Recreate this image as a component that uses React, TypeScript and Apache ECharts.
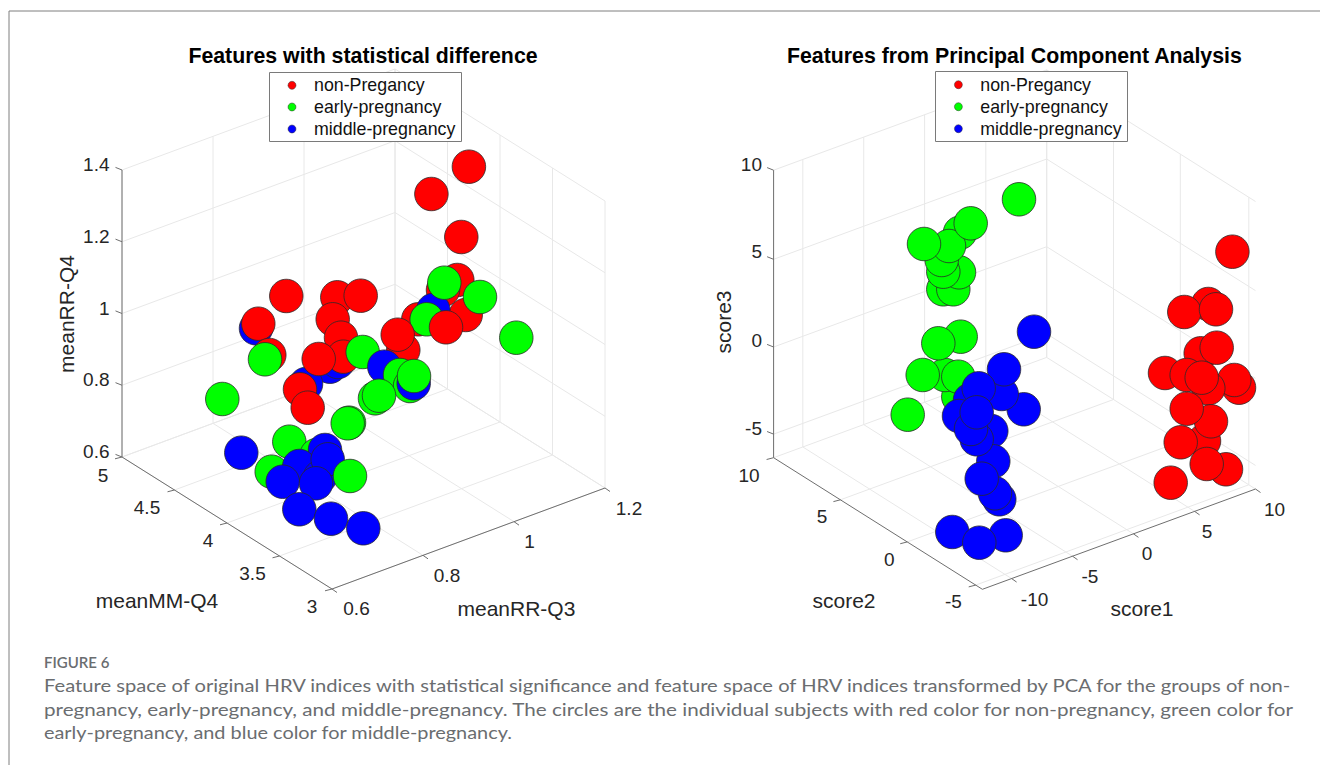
import React, { useEffect, useRef } from "react";
import * as echarts from "echarts";

const leftNonPregnancy = [
  [403.3, 350, 1], [465.7, 315, 2], [457.3, 280, 3], [443, 290, 4], [418.3, 319.3, 5], [446, 327.3, 10], [397.7, 334.7, 11],
  [468.9, 166.7, 12], [431.4, 194, 13], [461.3, 237, 14], [258.3, 323.7, 16], [286.3, 296, 17], [269.3, 355, 18],
  [337.3, 297.3, 20], [360.7, 295.7, 21], [332.7, 319.3, 22], [341, 337.7, 23], [343.3, 356.7, 26], [318.7, 359, 28],
  [300, 389.3, 29], [307.7, 407.7, 30],
];
const leftEarlyPregnancy = [
  [426.7, 319.3, 7], [444.3, 282.7, 8], [480, 297, 9], [265, 359.3, 19], [362.7, 352, 31], [400, 375, 33], [410, 386, 34],
  [414, 376, 36], [375, 398.3, 37], [379, 395.7, 38], [349, 422.7, 39], [347.7, 423.3, 40], [222.3, 399, 41],
  [516.3, 337.7, 41.5], [289.3, 441.7, 42], [316.7, 455, 43], [271.7, 471.7, 44], [350, 476, 50],
];
const leftMiddlePregnancy = [
  [433.3, 310, 6], [256, 328.3, 15], [330, 366.7, 24], [338, 362, 25], [306, 384, 27], [384.3, 366.7, 32], [413.7, 383.3, 35],
  [241.3, 452.7, 45], [325, 450, 46], [299.3, 466, 47], [320, 477, 48], [327.7, 459.3, 49], [282.7, 481.7, 51],
  [316, 483.3, 52], [299.3, 509.3, 53], [331, 518.7, 54], [363.3, 528.3, 55],
];
const rightNonPregnancy = [
  [1232.4, 251.7, 1], [1208.3, 304, 2], [1184.3, 312, 3], [1216, 309.3, 4], [1200.7, 353.3, 5], [1216.7, 347.7, 6],
  [1165, 373, 7], [1239, 387.7, 8], [1234.3, 380, 9], [1208.3, 388.3, 10], [1186.7, 375, 11], [1201.7, 377.7, 12],
  [1204, 441, 13], [1211, 421.3, 14], [1186.7, 408.7, 15], [1180.7, 442.3, 16], [1226, 469.3, 17], [1206.7, 464, 18],
  [1170.7, 482.7, 19],
];
const rightEarlyPregnancy = [
  [960, 232.7, 20], [943.3, 289.3, 21], [953.3, 289.3, 22], [959, 272.3, 23], [943.3, 271.7, 24], [941.7, 260, 25],
  [949, 246, 26], [924, 244, 27], [970.7, 223.3, 28], [958.3, 396.7, 29], [945, 375, 30], [922.7, 375, 31],
  [958.3, 376.7, 32], [960.7, 336.7, 33], [938.3, 343.3, 34], [907.7, 414.7, 35], [1019, 199.3, 36],
];
const rightMiddlePregnancy = [
  [1034, 331.7, 37], [1023.7, 409.3, 38], [1001.7, 394, 39], [1004, 369.3, 40], [970, 400, 41], [959, 416, 42],
  [978.7, 388.3, 43], [991.3, 431, 44], [993.3, 461.3, 45], [999.3, 499.3, 46], [995, 493.3, 47], [981.7, 478.7, 48],
  [976.7, 439.3, 49], [971, 429, 50], [976.7, 412.3, 51], [1005.7, 535.3, 52], [952.3, 532, 53], [979.3, 542.7, 54],
];

const legendLabels = ["non-Pregancy", "early-pregnancy", "middle-pregnancy"];
const groupColors = ["#ff0000", "#00ff00", "#0000ff"];

const leftTitle = "Features with statistical difference";
const rightTitle = "Features from Principal Component Analysis";
const leftZTicks = ["0.6", "0.8", "1", "1.2", "1.4"];
const leftYTicks = ["5", "4.5", "4", "3.5", "3"];
const leftXTicks = ["0.6", "0.8", "1", "1.2"];
const rightZTicks = ["-5", "0", "5", "10"];
const rightYTicks = ["10", "5", "0", "-5"];
const rightXTicks = ["-10", "-5", "0", "5", "10"];

const captionHead = "FIGURE 6";
const captionLines = [
  "Feature space of original HRV indices with statistical significance and feature space of HRV indices transformed by PCA for the groups of non-",
  "pregnancy, early-pregnancy, and middle-pregnancy. The circles are the individual subjects with red color for non-pregnancy, green color for",
  "early-pregnancy, and blue color for middle-pregnancy.",
];

type P = [number, number];
const SANS = '"Liberation Sans", Arial, sans-serif';
const CAP = 'Lato, "Noto Sans", sans-serif';

const lerp = (a: P, b: P, t: number): P => [a[0] + (b[0] - a[0]) * t, a[1] + (b[1] - a[1]) * t];
const add = (a: P, d: P): P => [a[0] + d[0], a[1] + d[1]];

function box(cfg: {
  L: P; F: P; R: P; height: number;
  xT: number[]; yT: number[]; zT: number[]; // fractions along each axis
}) {
  const { L, F, R, height, xT, yT, zT } = cfg;
  const B: P = [L[0] + R[0] - F[0], L[1] + R[1] - F[1]];
  const grid: P[][] = [];
  const axes: P[][] = [];
  const up = (p: P, t: number): P => [p[0], p[1] - height * t];
  xT.forEach((t) => {
    const a = lerp(F, R, t), b = lerp(L, B, t);
    grid.push([a, b, up(b, 1)]);
    axes.push([a, add(a, [5, 3.5])]);
  });
  yT.forEach((t) => {
    const a = lerp(L, F, t), b = lerp(B, R, t);
    grid.push([a, b, up(b, 1)]);
    axes.push([a, add(a, [-7, 1.8])]);
  });
  zT.forEach((t) => {
    grid.push([up(L, t), up(B, t), up(R, t)]);
    axes.push([up(L, t), add(up(L, t), [-6.5, -2.6])]);
  });
  axes.push([up(L, 1), L, F, R]);
  return { grid, axes };
}

const toLine = (polys: P[][]) => {
  const out: any[] = [];
  polys.forEach((p) => { p.forEach((q) => out.push(q)); out.push(["-", "-"]); });
  return out;
};

const merge = (groups: number[][][]) =>
  groups
    .flatMap((g, i) => g.map((p) => ({ value: [p[0], p[1]], order: p[2], itemStyle: { color: groupColors[i] } })))
    .sort((a, b) => a.order - b.order)
    .map(({ value, itemStyle }) => ({ value, itemStyle }));

function label(text: string, x: number, y: number, size = 19, extra: any = {}) {
  return {
    type: "text", x, y, z: 50, silent: true,
    style: { text, font: `${size}px ${SANS}`, fill: "#262626", textAlign: "center", textVerticalAlign: "middle" },
    ...extra,
  };
}

function legend(x0: number, x1: number, y0: number, y1: number, mx: number, tx: number, ys: number[]) {
  const out: any[] = [{
    type: "rect", z: 60, silent: true, shape: { x: x0, y: y0, width: x1 - x0, height: y1 - y0 },
    style: { fill: "#fff", stroke: "#7a7a7a", lineWidth: 1 },
  }];
  legendLabels.forEach((t, i) => {
    out.push({ type: "circle", z: 61, silent: true, shape: { cx: mx, cy: ys[i], r: 4 }, style: { fill: groupColors[i], stroke: "#333", lineWidth: 0.5 } });
    out.push({ type: "text", z: 61, silent: true, x: tx, y: ys[i], style: { text: t, font: `17.8px ${SANS}`, fill: "#111", textAlign: "left", textVerticalAlign: "middle" } });
  });
  return out;
}

function fitScale(text: string, font: string, target: number) {
  const c = document.createElement("canvas").getContext("2d")!;
  c.font = font;
  return target / c.measureText(text).width;
}

export default function App() {
  const ref = useRef<HTMLDivElement>(null);
  useEffect(() => {
    const chart = echarts.init(ref.current!, undefined, { renderer: "svg" });

    const left = box({
      L: [122, 457], F: [332, 589], R: [605, 488], height: 287,
      xT: [0, 1 / 3, 2 / 3, 1], yT: [0, 0.25, 0.5, 0.75, 1], zT: [0, 0.25, 0.5, 0.75, 1],
    });
    const right = box({
      L: [773.6, 457.7], F: [982.4, 589.3], R: [1255.5, 489], height: 287.5,
      xT: [0.107, 0.33, 0.553, 0.777, 1], yT: [0, 0.32, 0.64, 0.968], zT: [0.082, 0.385, 0.69, 1],
    });

    const zStyle = (t: string) => ({ style: { text: t, font: `19px ${SANS}`, fill: "#262626", textAlign: "right", textVerticalAlign: "middle" } });
    const leftLabels = [
      ...leftZTicks.map((t, i) => label(t, 109.5, [451, 379, 308, 236, 164][i], 19, zStyle(t))),
      ...leftYTicks.map((t, i) => label(t, [103, 147, 208, 252.5, 312][i], [475, 507.7, 540, 573.3, 606][i])),
      ...leftXTicks.map((t, i) => label(t, [356.5, 447, 529.5, 629][i], [608.3, 575.7, 541.7, 508.3][i])),
      label("meanMM-Q4", 157, 600.7, 21),
      label("meanRR-Q3", 516.4, 608.3, 21),
      label("meanRR-Q4", 66.5, 314, 21, { rotation: Math.PI / 2 }),
    ];
    const rightLabels = [
      ...rightZTicks.map((t, i) => label(t, 762, [428.3, 340, 251.7, 164][i], 19, zStyle(t))),
      ...rightYTicks.map((t, i) => label(t, [749, 822, 889.4, 953.4][i], [475, 516.7, 559.3, 601.7][i])),
      ...rightXTicks.map((t, i) => label(t, [1034.6, 1090, 1147, 1207, 1274.5][i], [599.3, 576.7, 553.3, 531, 509][i])),
      label("score2", 844, 600.7, 21),
      label("score1", 1142, 608.3, 21),
      label("score3", 723, 322, 21, { rotation: Math.PI / 2 }),
    ];

    const capFont = `17.5px ${CAP}`;
    const caption = captionLines.map((t, i) => ({
      type: "text", z: 50, silent: true, x: 44, y: [685, 709, 732][i],
      scaleX: fitScale(t, capFont, [1252, 1252, 469][i]),
      style: { text: t, font: capFont, fill: "#6a6d70", textAlign: "left", textVerticalAlign: "middle" },
    }));

    const titleStyle = (t: string) => ({ style: { text: t, font: `bold 21.3px ${SANS}`, fill: "#000", textAlign: "center", textVerticalAlign: "middle" } });
    const graphic = [
      { type: "polyline", z: 0, silent: true, shape: { points: [[9, 765], [9, 11], [1320, 11]] }, style: { fill: "none", stroke: "#7f7f7f", lineWidth: 1 } },
      label(leftTitle, 363, 55.5, 21.3, titleStyle(leftTitle)),
      label(rightTitle, 1014.4, 55.5, 21.3, titleStyle(rightTitle)),
      ...leftLabels,
      ...rightLabels,
      ...legend(269.5, 461.5, 72.5, 141.5, 292, 314, [85.3, 107, 129]),
      ...legend(935.5, 1127.5, 71.5, 141.5, 958.4, 980.3, [84.7, 106.7, 128.7]),
      { type: "text", z: 50, silent: true, x: 44, y: 662, style: { text: captionHead, font: `600 15px ${CAP}`, fill: "#6a6d70", textAlign: "left", textVerticalAlign: "middle" } },
      ...caption,
    ];

    const gridSeries = (polys: P[][]) => ({
      type: "line", silent: true, symbol: "none", z: 1, connectNulls: false,
      lineStyle: { color: "#e8e8e8", width: 1 }, data: toLine(polys),
    });
    const axisSeries = (polys: P[][]) => ({
      type: "line", silent: true, symbol: "none", z: 2, connectNulls: false,
      lineStyle: { color: "#6e6e6e", width: 1 }, data: toLine(polys),
    });
    const pointSeries = (data: any[]) => ({
      type: "scatter", silent: true, z: 3, symbol: "circle", symbolSize: 33.5,
      itemStyle: { borderColor: "#2a2a2a", borderWidth: 0.8, opacity: 1 }, data,
    });

    chart.setOption({
      animation: false,
      grid: { left: 0, right: 0, top: 0, bottom: 0 },
      xAxis: { type: "value", min: 0, max: 1320, show: false },
      yAxis: { type: "value", min: 0, max: 765, inverse: true, show: false },
      series: [
        gridSeries(left.grid), gridSeries(right.grid),
        axisSeries(left.axes), axisSeries(right.axes),
        pointSeries(merge([leftNonPregnancy, leftEarlyPregnancy, leftMiddlePregnancy])),
        pointSeries(merge([rightNonPregnancy, rightEarlyPregnancy, rightMiddlePregnancy])),
      ],
      graphic,
    });
    return () => chart.dispose();
  }, []);
  return <div ref={ref} style={{ position: "absolute", left: 0, top: 0, width: 1320, height: 765, background: "#fff" }} />;
}
